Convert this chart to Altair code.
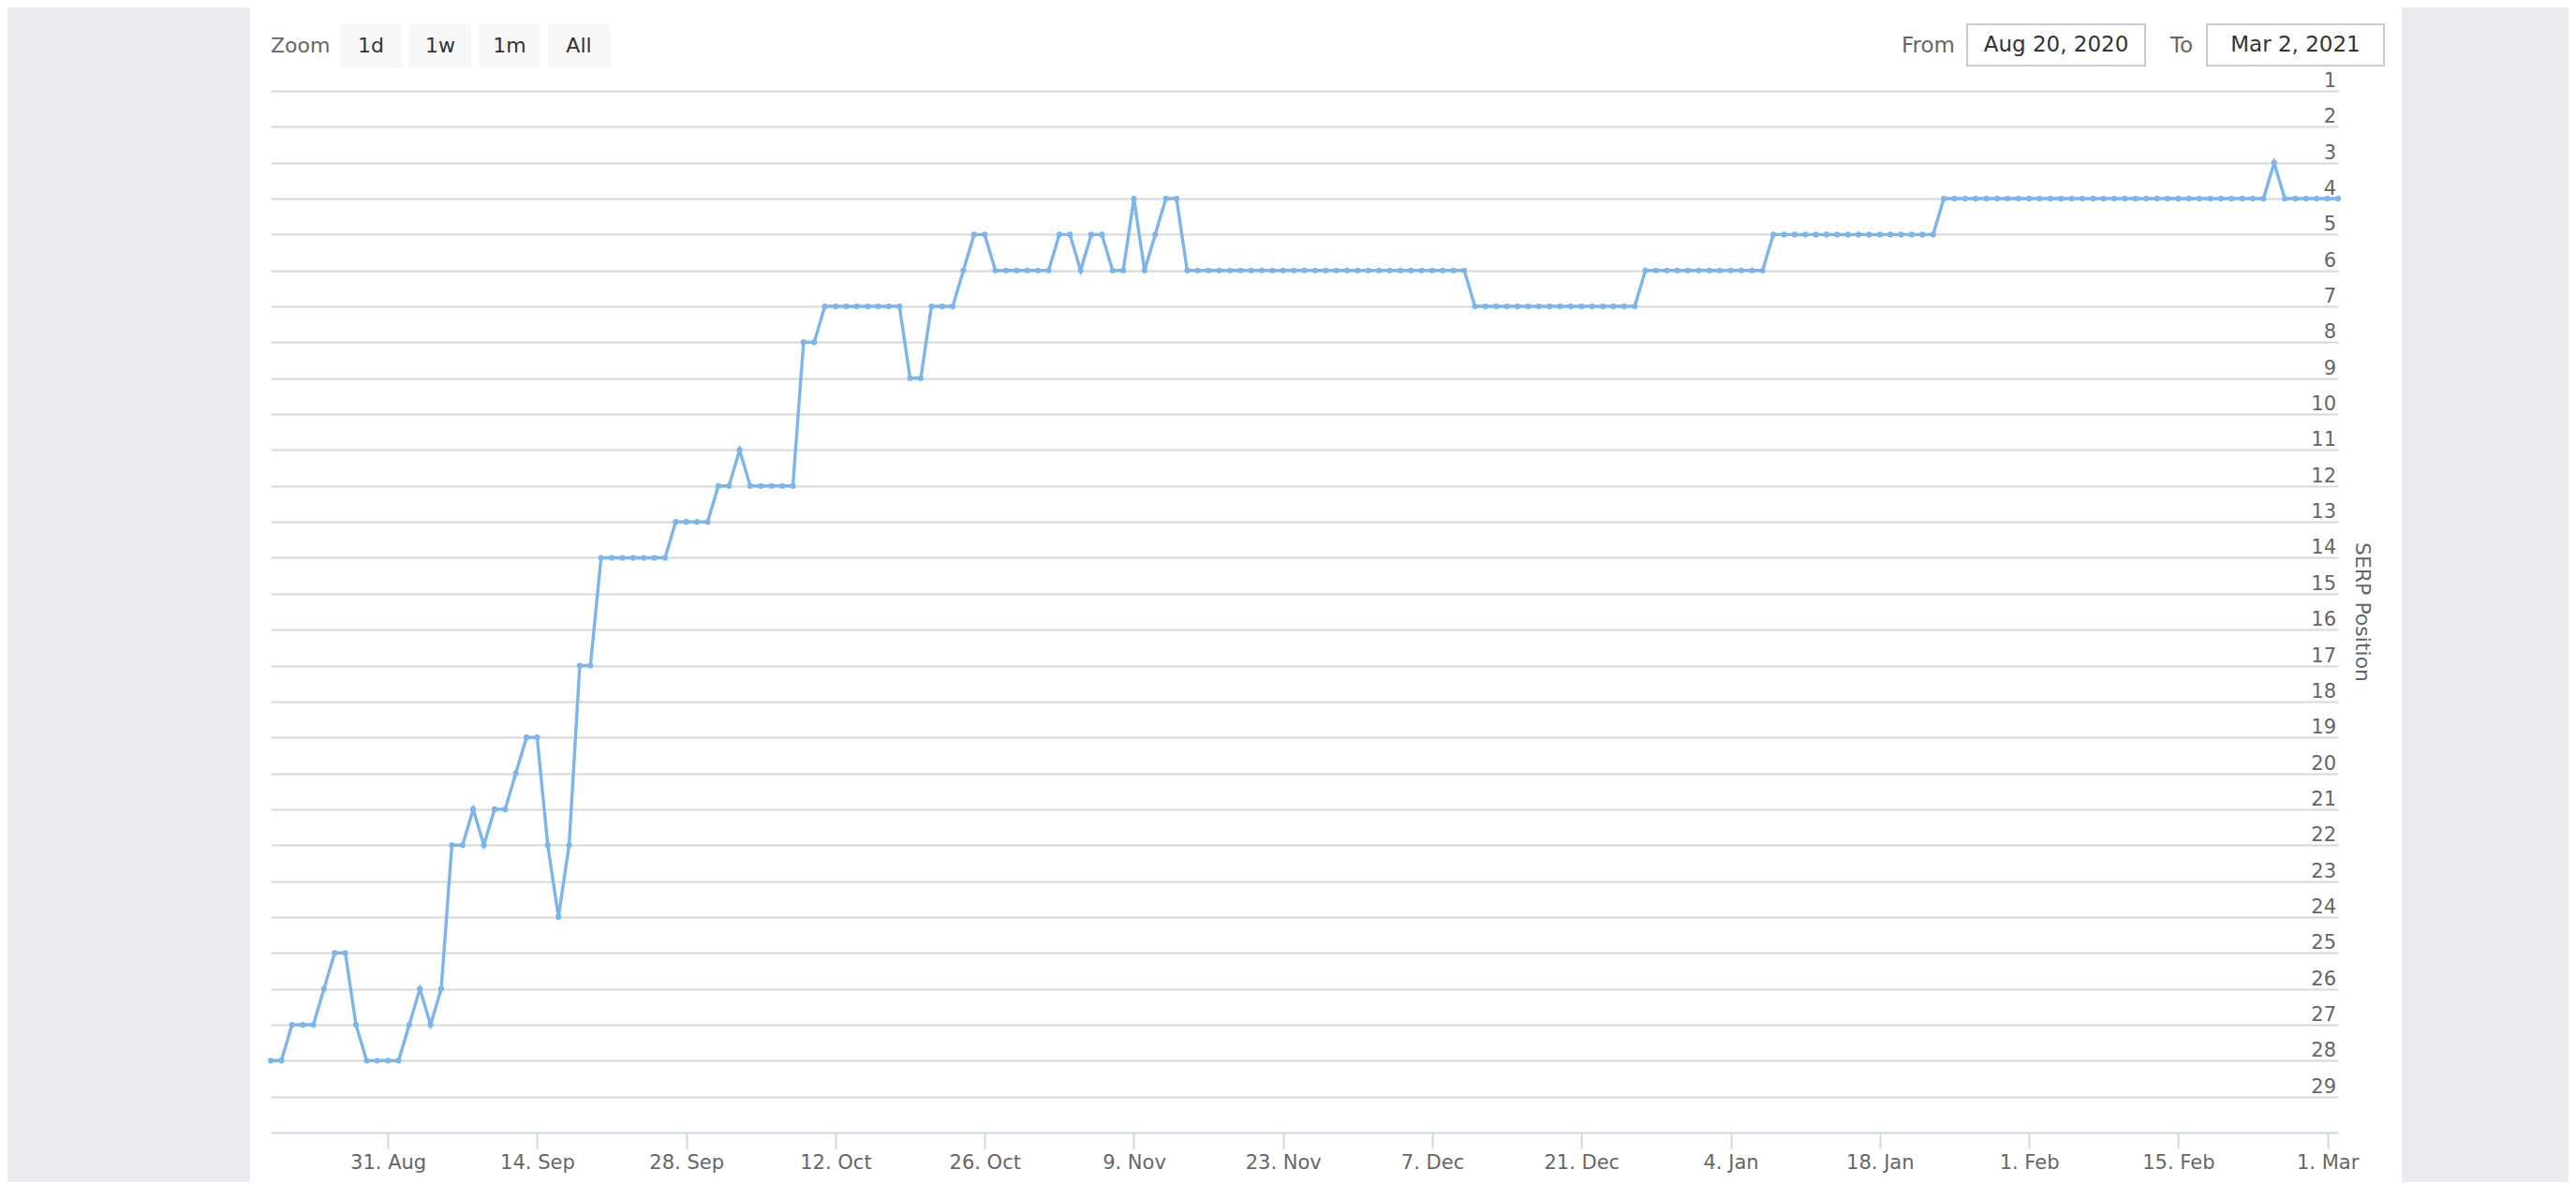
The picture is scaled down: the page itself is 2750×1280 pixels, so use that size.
import altair as alt
import pandas as pd

# ---------------- data ----------------
start_date = "2020-08-20"
end_date = "2021-03-02"

aug_vals = [28, 28, 27, 27, 27, 26, 25, 25, 27, 28, 28, 28]
sep_vals = [28, 27, 26, 27, 26, 22, 22, 21, 22, 21, 21, 20, 19, 19, 22,
            24, 22, 17, 17, 14, 14, 14, 14, 14, 14, 14, 13, 13, 13, 13]
oct_vals = [12, 12, 11, 12, 12, 12, 12, 12, 8, 8, 7, 7, 7, 7, 7, 7,
            7, 7, 9, 9, 7, 7, 7, 6, 5, 5, 6, 6, 6, 6, 6]
nov_vals = [6, 5, 5, 6, 5, 5, 6, 6, 4, 6, 5, 4, 4, 6, 6, 6, 6, 6, 6, 6,
            6, 6, 6, 6, 6, 6, 6, 6, 6, 6]
dec_vals = [6, 6, 6, 6, 6, 6, 6, 6, 6, 6, 7, 7, 7, 7, 7, 7, 7, 7, 7, 7,
            7, 7, 7, 7, 7, 7, 6, 6, 6, 6, 6]
jan_vals = [6, 6, 6, 6, 6, 6, 6, 5, 5, 5, 5, 5, 5, 5, 5, 5, 5, 5, 5, 5,
            5, 5, 5, 4, 4, 4, 4, 4, 4, 4, 4]
feb_vals = [4, 4, 4, 4, 4, 4, 4, 4, 4, 4, 4, 4, 4, 4, 4, 4, 4, 4, 4, 4,
            4, 4, 4, 3, 4, 4, 4, 4]
mar_vals = [4, 4]

y_ticks = [1, 2, 3, 4, 5, 6, 7, 8, 9, 10, 11, 12, 13, 14, 15, 16, 17, 18,
           19, 20, 21, 22, 23, 24, 25, 26, 27, 28, 29]
x_ticks = [(2020, 8, 31), (2020, 9, 14), (2020, 9, 28), (2020, 10, 12),
           (2020, 10, 26), (2020, 11, 9), (2020, 11, 23), (2020, 12, 7),
           (2020, 12, 21), (2021, 1, 4), (2021, 1, 18), (2021, 2, 1),
           (2021, 2, 15), (2021, 3, 1)]
zoom_buttons = ["1d", "1w", "1m", "All"]
from_label = "Aug 20, 2020"
to_label = "Mar 2, 2021"

values = aug_vals + sep_vals + oct_vals + nov_vals + dec_vals + jan_vals + feb_vals + mar_vals
dates = pd.date_range(start_date, end_date, freq="D").strftime("%Y-%m-%d")
df = pd.DataFrame({"date": list(dates), "rank": values})

# ---------------- style ----------------
FONT = "DejaVu Sans"
BLUE = "#7cb5ec"
W, H = 2207, 1112
TEXTURE = "#ebebf0"


def dt(t):
    return alt.DateTime(year=t[0], month=t[1], date=t[2], utc=True)


x_scale = alt.Scale(type="utc", domain=[dt((2020, 8, 20)), dt((2021, 3, 2))], nice=False)
y_scale = alt.Scale(domain=[1, 30], reverse=True, nice=False, zero=False)

x_axis = alt.Axis(
    values=[dt(t) for t in x_ticks],
    labelExpr="utcFormat(datum.value, '%-d. %b')",
    orient="bottom", grid=False, title=None,
    domainColor="#ccd6eb", domainWidth=2,
    tickColor="#ccd6eb", tickWidth=2, tickSize=17,
    labelPadding=4, labelFont=FONT, labelFontSize=21, labelColor="#666666",
    labelFlush=False, labelOverlap=False,
)
y_axis = alt.Axis(
    orient="right", values=y_ticks, grid=True, gridColor="#d8d8d8", gridWidth=2,
    labels=False, ticks=False, domain=False,
    title="SERP Position", titleFont=FONT, titleFontSize=22, titleColor="#666666",
    titleFontWeight="normal", titleAngle=90, titleX=25, titleY=H / 2,
    titleAlign="center", titleBaseline="middle",
)

base = alt.Chart(df)
line = base.mark_line(color=BLUE, strokeWidth=3.4).encode(
    x=alt.X("date:T", scale=x_scale, axis=x_axis),
    y=alt.Y("rank:Q", scale=y_scale, axis=y_axis),
)
points = base.mark_point(filled=True, size=38, color=BLUE, opacity=1).encode(
    x=alt.X("date:T", scale=x_scale, axis=x_axis),
    y=alt.Y("rank:Q", scale=y_scale, axis=y_axis),
)

ylab = alt.Chart(pd.DataFrame({"rank": y_ticks})).mark_text(
    align="right", baseline="alphabetic", dy=-4, font=FONT, fontSize=21, color="#666666"
).encode(
    x=alt.value(W - 2),
    y=alt.Y("rank:Q", scale=y_scale, axis=y_axis),
    text="rank:Q",
)

one = pd.DataFrame({"k": [0]})


def box(x, x2, y, y2, fill, stroke=None):
    if stroke:
        m = alt.Chart(one).mark_rect(fill=fill, stroke=stroke, strokeWidth=2)
    else:
        m = alt.Chart(one).mark_rect(fill=fill)
    return m.encode(x=alt.value(x), x2=alt.value(x2), y=alt.value(y), y2=alt.value(y2))


def label(txt, x, y, align, color, size):
    return alt.Chart(one).mark_text(
        text=txt, align=align, baseline="middle", font=FONT, fontSize=size, color=color
    ).encode(x=alt.value(x), y=alt.value(y))


decor = [
    box(-300, -22, -100, 1300, TEXTURE),
    box(2275, 2500, -100, 1300, TEXTURE),
    label("Zoom", 0, -48, "left", "#666666", 22),
]
for i, b in enumerate(zoom_buttons):
    x0 = 74 + i * 74
    decor.append(box(x0, x0 + 66, -71, -25, "#f7f7f7"))
    decor.append(label(b, x0 + 33, -48, "center", "#333333", 22))

decor += [
    label("From", 1798, -48, "right", "#666666", 23),
    box(1811, 2001, -71, -27, "#ffffff", "#cccccc"),
    label(from_label, 1906, -49, "center", "#333333", 23),
    label("To", 2052, -48, "right", "#666666", 23),
    box(2067, 2256, -71, -27, "#ffffff", "#cccccc"),
    label(to_label, 2161.5, -49, "center", "#333333", 23),
]

chart = alt.layer(*decor, ylab, line, points).properties(
    width=W, height=H,
    autosize=alt.AutoSizeParams(type="none"),
    padding={"left": 281, "top": 89, "right": 246, "bottom": 53},
).configure_view(stroke=None)

chart.save("out.html", embed_options={"renderer": "svg", "actions": False})
